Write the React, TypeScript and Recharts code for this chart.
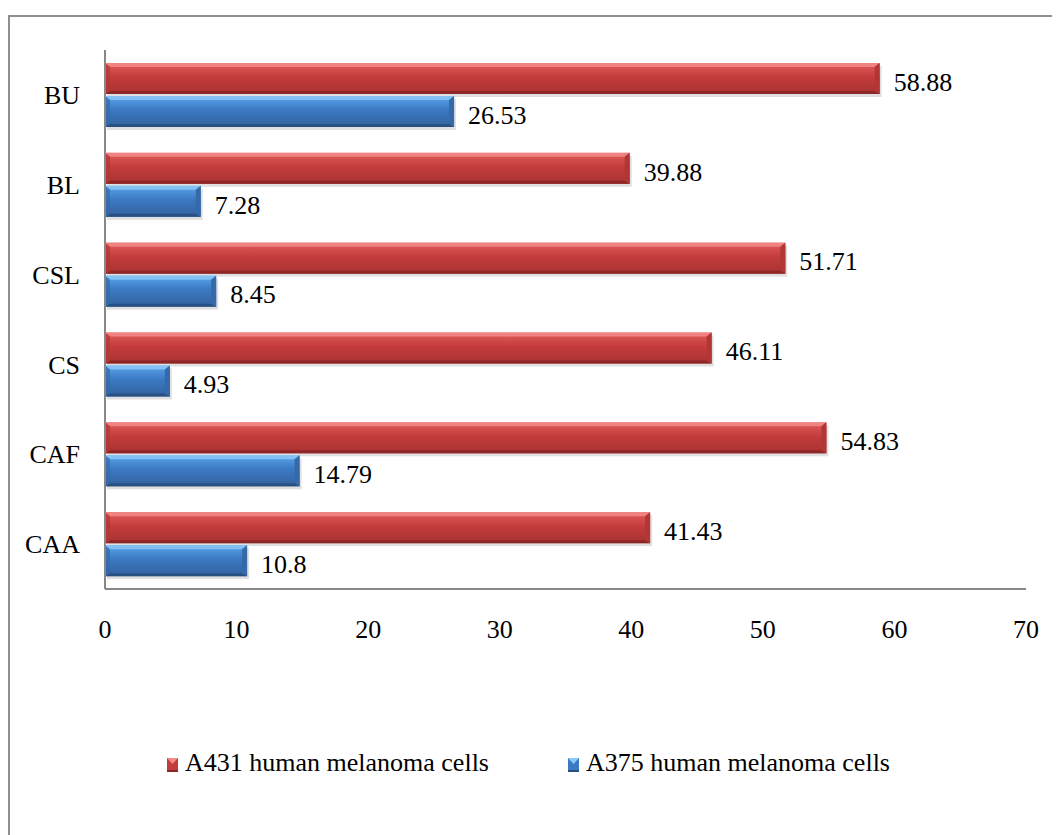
import React from 'react';
import { BarChart, Bar, XAxis, YAxis, LabelList } from 'recharts';

const categories = ['BU', 'BL', 'CSL', 'CS', 'CAF', 'CAA'];
const a431 = [58.88, 39.88, 51.71, 46.11, 54.83, 41.43];
const a375 = [26.53, 7.28, 8.45, 4.93, 14.79, 10.8];
const xTicks = [0, 10, 20, 30, 40, 50, 60, 70];

const data = categories.map((name, i) => ({ name, a431: a431[i], a375: a375[i] }));

const FONT = '"Liberation Serif", "Times New Roman", serif';

const palettes = {
  red: { light: '#f58a8a', top: '#e25d5d', mid: '#c43c3c', bottom: '#a83232', dark: '#8a2626', end: '#b23636' },
  blue: { light: '#8cc8f8', top: '#5aa4ec', mid: '#3b79c2', bottom: '#33629e', dark: '#284e80', end: '#3569a8' },
};

const BevelBar = (color: 'red' | 'blue') => (props: any) => {
  const { x, y, width, height } = props;
  if (!width || width <= 0) return null;
  const p = palettes[color];
  const b = Math.min(5, width / 2);
  const id = `grad-${color}`;
  return (
    <g>
      <defs>
        <linearGradient id={id} x1="0" y1="0" x2="0" y2="1">
          <stop offset="0%" stopColor={p.top} />
          <stop offset="45%" stopColor={p.mid} />
          <stop offset="100%" stopColor={p.bottom} />
        </linearGradient>
      </defs>
      <rect x={x + 2} y={y + 3} width={width} height={height} fill="#000" opacity={0.12} />
      <rect x={x} y={y} width={width} height={height} fill={`url(#${id})`} />
      <polygon points={`${x},${y} ${x + width},${y} ${x + width - b},${y + 4} ${x + b},${y + 4}`} fill={p.light} opacity={0.85} />
      <polygon points={`${x},${y + height} ${x + width},${y + height} ${x + width - b},${y + height - 3} ${x + b},${y + height - 3}`} fill={p.dark} opacity={0.9} />
      <polygon points={`${x + width},${y} ${x + width},${y + height} ${x + width - b},${y + height - 3} ${x + width - b},${y + 4}`} fill={p.end} />
      <polygon points={`${x},${y} ${x},${y + height} ${x + b},${y + height - 3} ${x + b},${y + 4}`} fill={p.end} opacity={0.7} />
    </g>
  );
};

const LegendSwatch = ({ color }: { color: 'red' | 'blue' }) => {
  const p = palettes[color];
  return (
    <svg width={11} height={14} style={{ marginRight: 7, verticalAlign: '-1px' }}>
      <rect x={0} y={0} width={11} height={14} fill={p.mid} />
      <polygon points="0,0 11,0 5.5,6" fill={p.light} />
      <rect x={0} y={12} width={11} height={2} fill={p.dark} />
    </svg>
  );
};

const textStyle = { fontSize: 26, fill: '#000', fontFamily: FONT };

export default function App() {
  return (
    <div style={{ position: 'relative', width: 1052, height: 827, fontFamily: FONT, background: '#fff' }}>
      <div
        style={{
          position: 'absolute',
          left: 0,
          top: 7,
          right: 0,
          bottom: -10,
          borderTop: '2px solid #8f8f8f',
          borderLeft: '2px solid #8f8f8f',
        }}
      />
      <BarChart
        width={1052}
        height={827}
        data={data}
        layout="vertical"
        margin={{ top: 42, right: 34, left: 0, bottom: 216 }}
        barSize={31}
        barGap={2}
        style={{ position: 'absolute', left: 0, top: 0 }}
      >
        <XAxis
          type="number"
          domain={[0, 70]}
          ticks={xTicks}
          tickLine={false}
          tickSize={0}
          tickMargin={31}
          axisLine={{ stroke: '#888', strokeWidth: 2 }}
          tick={textStyle}
          height={30}
        />
        <YAxis
          type="category"
          dataKey="name"
          width={97}
          tickLine={false}
          tickSize={0}
          tickMargin={25}
          axisLine={{ stroke: '#888', strokeWidth: 2 }}
          tick={textStyle}
        />
        <Bar dataKey="a431" shape={BevelBar('red')} isAnimationActive={false}>
          <LabelList dataKey="a431" position="right" offset={14} style={textStyle} dy={3} />
        </Bar>
        <Bar dataKey="a375" shape={BevelBar('blue')} isAnimationActive={false}>
          <LabelList dataKey="a375" position="right" offset={14} style={textStyle} dy={3} />
        </Bar>
      </BarChart>
      <div style={{ position: 'absolute', left: 159, top: 740, fontSize: 26, lineHeight: '30px', color: '#000', whiteSpace: 'nowrap' }}>
        <LegendSwatch color="red" />
        <span>A431 human melanoma cells</span>
      </div>
      <div style={{ position: 'absolute', left: 560, top: 740, fontSize: 26, lineHeight: '30px', color: '#000', whiteSpace: 'nowrap' }}>
        <LegendSwatch color="blue" />
        <span>A375 human melanoma cells</span>
      </div>
    </div>
  );
}
